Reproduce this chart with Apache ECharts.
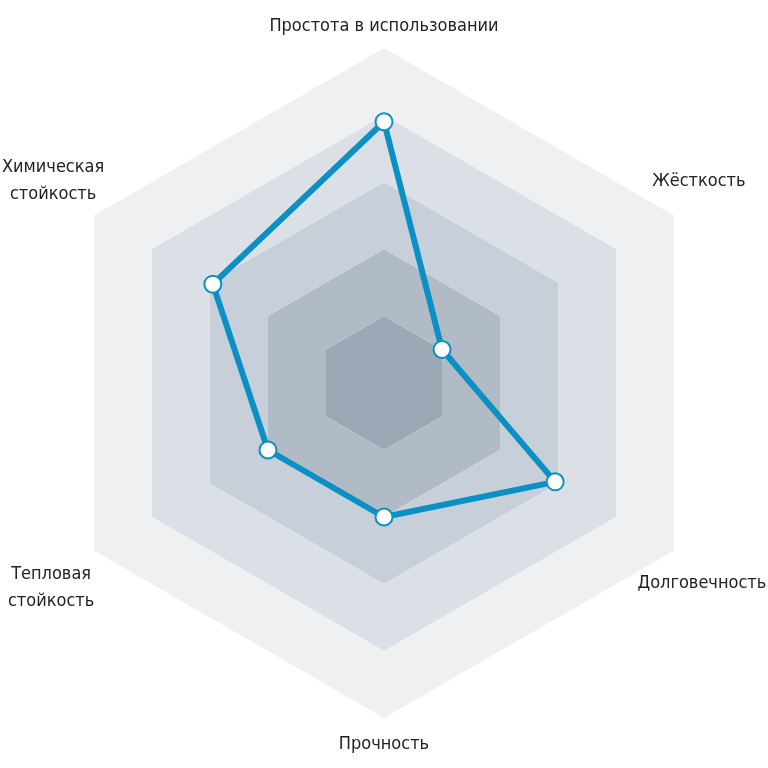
<!DOCTYPE html>
<html>
<head>
<meta charset="utf-8">
<script src="https://cdn.jsdelivr.net/npm/echarts@6/dist/echarts.min.js"></script>
<style>
html,body{margin:0;padding:0;background:#fff;}
#chart{width:768px;height:768px;}
</style>
</head>
<body>
<div id="chart"></div>
<script>
// Indicators in ECharts order (counter-clockwise from top)
const indicatorNames = [
  'Простота в использовании',
  'Химическая\nстойкость',
  'Тепловая\nстойкость',
  'Прочность',
  'Долговечность',
  'Жёсткость'
];
const indicatorMax = 100;
const seriesValues = [78, 59, 40, 40, 59, 20];
const ringColors = ['#9ba9b7', '#b0bbc6', '#c7cfd8', '#dbe0e6', '#eef0f2'];
// label nudges [dx, dy] in px relative to default centred placement
const labelShift = [[0, 2], [-20, -23], [-22, 25], [0, 2], [7, 21], [4, -22]];

const FONT = "'Liberation Sans Narrow', 'DejaVu Sans Condensed', sans-serif";
const rich = { t: { fontSize: 18, lineHeight: 27, color: '#222222', fontFamily: FONT } };
labelShift.forEach(function (s, i) {
  rich['h' + i] = { width: Math.abs(s[0]) * 2, height: 1 };
  rich['v' + i] = { height: Math.abs(s[1]) * 2, lineHeight: Math.abs(s[1]) * 2 };
});

function fmtName(name, indicator) {
  const i = indicatorNames.indexOf(name);
  const s = labelShift[i] || [0, 0];
  let lines = name.split('\n').map(function (ln) {
    if (s[0] < 0) return '{t|' + ln + '}{h' + i + '|}';
    if (s[0] > 0) return '{h' + i + '|}{t|' + ln + '}';
    return '{t|' + ln + '}';
  });
  let out = lines.join('\n');
  if (s[1] < 0) out = out + '\n{v' + i + '|}';
  if (s[1] > 0) out = '{v' + i + '|}\n' + out;
  return out;
}

const chart = echarts.init(document.getElementById('chart'), null, { renderer: 'canvas' });
chart.setOption({
  backgroundColor: '#ffffff',
  textStyle: { fontFamily: FONT },
  radar: {
    center: ['50%', 383],
    radius: 335,
    startAngle: 90,
    splitNumber: 5,
    shape: 'polygon',
    nameGap: 24,
    indicator: indicatorNames.map(function (n) { return { name: n, max: indicatorMax, min: 0 }; }),
    axisName: {
      color: '#222222',
      fontSize: 18,
      fontFamily: FONT,
      align: 'center',
      verticalAlign: 'middle',
      formatter: fmtName,
      rich: rich
    },
    splitArea: { show: true, areaStyle: { color: ringColors } },
    splitLine: { show: false },
    axisLine: { show: false },
    axisTick: { show: false },
    axisLabel: { show: false }
  },
  series: [{
    type: 'radar',
    symbol: 'circle',
    symbolSize: 17,
    lineStyle: { color: '#0a90c4', width: 6 },
    itemStyle: { color: '#ffffff', borderColor: '#0a90c4', borderWidth: 2 },
    data: [{ value: seriesValues, name: 'Оценка' }]
  }]
});
</script>
</body>
</html>
